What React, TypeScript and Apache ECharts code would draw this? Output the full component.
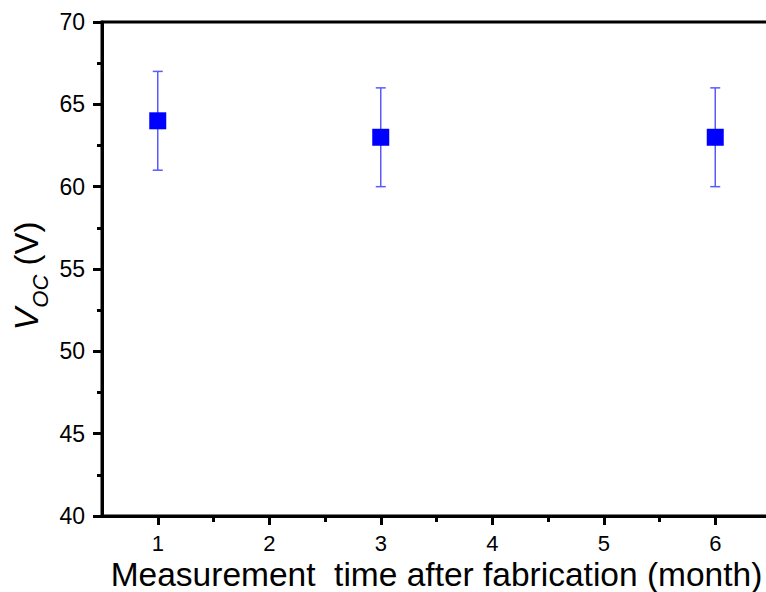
import React, { useEffect, useRef } from "react";
import * as echarts from "echarts";

const months = [1, 3, 6];
const voc = [64, 63, 63];
const vocLow = [61, 60, 60];
const vocHigh = [67, 66, 66];
const xTickValues = [1, 2, 3, 4, 5, 6];
const xMinorValues = [1.5, 2.5, 3.5, 4.5, 5.5];

const FONT = "Liberation Sans, Arial, sans-serif";

export default function App() {
  const ref = useRef<HTMLDivElement>(null);
  useEffect(() => {
    if (!ref.current) return;
    const chart = echarts.init(ref.current, null, { renderer: "svg" });
    const grid = {
      left: 102,
      top: 22,
      width: 669,
      height: 494,
      show: true,
      borderColor: "#000",
      borderWidth: 3,
      backgroundColor: "transparent",
      outerBoundsMode: "none",
      containLabel: false,
    };
    const option: any = {
      animation: false,
      backgroundColor: "#fff",
      grid,
      xAxis: [
        {
          type: "value",
          min: 0.5,
          max: 6.5,
          position: "bottom",
          name: "Measurement  time after fabrication (month)",
          nameLocation: "middle",
          nameGap: 43,
          nameMoveOverlap: false,
          nameTextStyle: { fontFamily: FONT, fontSize: 33.5, lineHeight: 31, color: "#000" },
          axisLine: { show: true, onZero: false, lineStyle: { color: "#000", width: 3 } },
          axisTick: { show: true, inside: false, length: 9, lineStyle: { color: "#000", width: 3 }, customValues: xTickValues },
          axisLabel: { show: true, margin: 16, fontFamily: FONT, fontSize: 22, color: "#000", customValues: xTickValues },
          splitLine: { show: false },
        },
        {
          type: "value",
          min: 0.5,
          max: 6.5,
          position: "bottom",
          axisLine: { show: false, onZero: false },
          axisTick: { show: true, inside: false, length: 6, lineStyle: { color: "#000", width: 3 }, customValues: xMinorValues },
          axisLabel: { show: false },
          splitLine: { show: false },
        },
      ],
      yAxis: {
        type: "value",
        min: 40,
        max: 70,
        interval: 5,
        name: "{v|V}{sub|OC}{n| (V)}",
        nameLocation: "middle",
        nameRotate: 90,
        nameGap: 59,
        nameMoveOverlap: false,
        nameTextStyle: {
          fontFamily: FONT,
          fontSize: 33,
          color: "#000",
          padding: [0, 14, 0, 0],
          rich: {
            v: { fontFamily: FONT, fontSize: 34, fontStyle: "italic", color: "#000", lineHeight: 38, verticalAlign: "bottom" },
            sub: { fontFamily: FONT, fontSize: 22, fontStyle: "italic", color: "#000", lineHeight: 28, verticalAlign: "bottom", padding: [0, 0, -8, 0] },
            n: { fontFamily: FONT, fontSize: 33, color: "#000", lineHeight: 38, verticalAlign: "bottom" },
          },
        },
        axisLine: { show: true, onZero: false, lineStyle: { color: "#000", width: 3 } },
        axisTick: { show: true, inside: false, length: 9, lineStyle: { color: "#000", width: 3 } },
        minorTick: { show: true, splitNumber: 2, length: 5, lineStyle: { color: "#000", width: 3 } },
        axisLabel: { margin: 17, fontFamily: FONT, fontSize: 23, color: "#000" },
        splitLine: { show: false },
        minorSplitLine: { show: false },
      },
      series: [
        {
          type: "custom",
          xAxisIndex: 0,
          data: months.map((m, i) => [m, vocLow[i], vocHigh[i]]),
          renderItem: (params: any, api: any) => {
            const x = api.value(0);
            const lo = api.coord([x, api.value(1)]);
            const hi = api.coord([x, api.value(2)]);
            const cap = 5;
            const style = { stroke: "#5a5aff", lineWidth: 1.5 };
            return {
              type: "group",
              children: [
                { type: "line", shape: { x1: lo[0], y1: lo[1], x2: hi[0], y2: hi[1] }, style },
                { type: "line", shape: { x1: lo[0] - cap, y1: lo[1], x2: lo[0] + cap, y2: lo[1] }, style },
                { type: "line", shape: { x1: hi[0] - cap, y1: hi[1], x2: hi[0] + cap, y2: hi[1] }, style },
              ],
            };
          },
          z: 2,
        },
        {
          type: "scatter",
          xAxisIndex: 0,
          data: months.map((m, i) => [m, voc[i]]),
          symbol: "rect",
          symbolSize: 17,
          itemStyle: { color: "#0000ff", opacity: 1 },
          z: 3,
        },
      ],
    };
    chart.setOption(option);
    return () => chart.dispose();
  }, []);
  return <div ref={ref} style={{ position: "absolute", left: 0, top: 0, width: 766, height: 592 }} />;
}
